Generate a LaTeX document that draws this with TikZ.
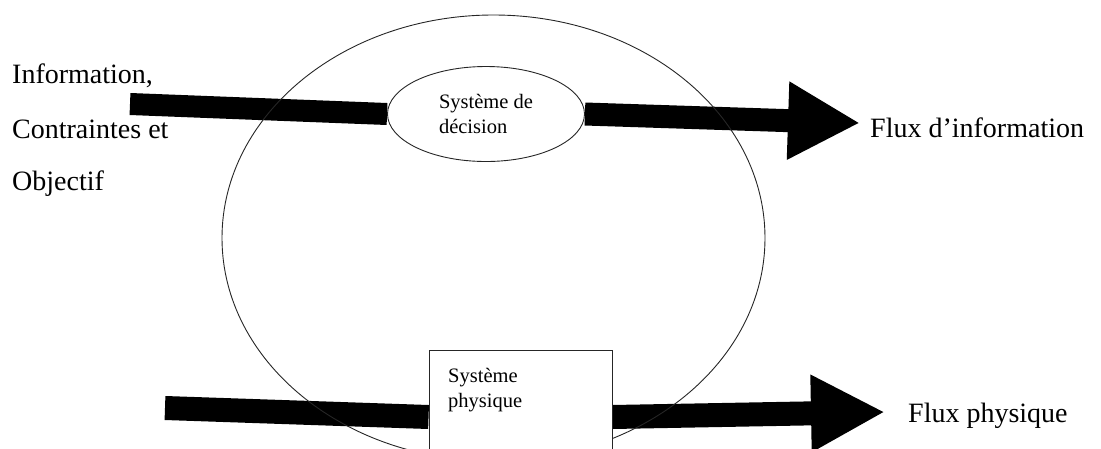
\documentclass[tikz,border=0pt]{standalone}
\usepackage{fontspec}
\setmainfont{Liberation Serif}
\usetikzlibrary{arrows.meta,shapes.geometric}
\pgfdeclarelayer{flows}
\pgfsetlayers{flows,main}

\begin{document}
\begin{tikzpicture}[x=1pt,y=-1pt,
  bigtext/.style={font=\fontsize{28}{28}\selectfont, inner sep=0pt, anchor=base west},
  smalltext/.style={font=\fontsize{20.5}{25}\selectfont},
  outline/.style={draw=black!85, line width=0.9pt},
  fatbar/.style={line width=23pt, line cap=butt},
  fatarrow/.style={fatbar, -{Triangle[length=72pt,width=73pt]}},
]
\useasboundingbox (0,0) rectangle (1101,448);
\clip (0,0) rectangle (1101,448);

% enclosing loop of the organisation
\node[outline, ellipse, minimum width=543pt, minimum height=446pt, inner sep=0pt]
  (loop) at (493.5,238) {};

% free ends of the flows
\coordinate (in1)  at (130,104);
\coordinate (out1) at (860,123);
\coordinate (in2)  at (165,408);
\coordinate (out2) at (885,412);

% decision system and physical system (white, above the flows)
\node[outline, ellipse, fill=white, minimum width=197pt, minimum height=95pt,
      inner sep=0pt, smalltext, align=left] (dec) at (486,114)
  {Système de\\décision};
\node[outline, rectangle, fill=white, minimum width=183pt, minimum height=134pt,
      inner sep=0pt] (phys) at (520.5,417) {};
\node[smalltext, inner sep=0pt, anchor=base west] (phys1) at (448,382) {Système};
\node[smalltext, inner sep=0pt, anchor=base west] (phys2) at (448,407) {physique};

\begin{pgfonlayer}{flows}
  % information flow
  \draw[fatbar, line width=22pt] (in1) -- (dec.west);
  \draw[fatarrow] (dec.east) -- (out1);
  % physical flow
  \draw[fatbar, line width=24pt] (in2) -- (phys.west);
  \draw[fatbar, line width=24pt, -{Triangle[length=74pt,width=72pt]}] (phys.east) -- (out2);
\end{pgfonlayer}

% labels
\node[bigtext] (lab1) at (12,83)  {Information,};
\node[bigtext] (lab2) at (12,138) {Contraintes et};
\node[bigtext] (lab3) at (12,190) {Objectif};
\node[bigtext] (lab4) at (870,137) {Flux d’information};
\node[bigtext] (lab5) at (908,422) {Flux physique};
\end{tikzpicture}
\end{document}
